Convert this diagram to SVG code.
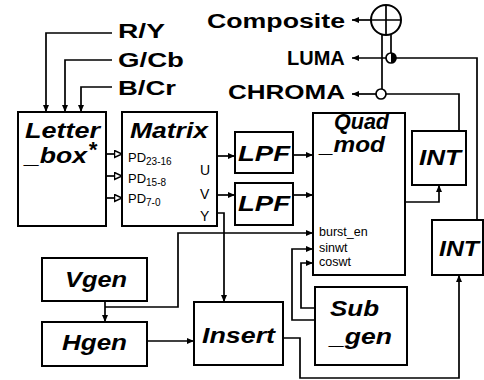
<svg xmlns="http://www.w3.org/2000/svg" width="484" height="380" viewBox="0 0 484 380">
<defs>
<style>
.box{fill:#fff;stroke:#000;stroke-width:2}
.c{fill:none;stroke:#000;stroke-width:1.7}
.bl{font-family:"Liberation Sans",Arial,sans-serif;font-weight:bold;font-style:italic;font-size:22px;fill:#000}
.sl{font-family:"Liberation Sans",Arial,sans-serif;font-weight:bold;font-size:20px;fill:#000}
.st{font-family:"Liberation Sans",Arial,sans-serif;font-size:13px;fill:#000}
.sm{font-family:"Liberation Sans",Arial,sans-serif;font-size:14px;fill:#000}
.sq{font-family:"Liberation Sans",Arial,sans-serif;font-size:12.5px;fill:#000}
</style>
<marker id="ah" markerUnits="userSpaceOnUse" markerWidth="8" markerHeight="8" refX="7" refY="3" orient="auto">
<path d="M0,0 L7,3 L0,6 z" fill="#000"/>
</marker>
<marker id="oh" markerUnits="userSpaceOnUse" markerWidth="10" markerHeight="10" refX="8.5" refY="4.5" orient="auto">
<path d="M1,1 L8.5,4.5 L1,8 z" fill="#fff" stroke="#000" stroke-width="1.5"/>
</marker>
</defs>
<g id="connectors">
<path class="c" d="M112,33 H46 V112" marker-end="url(#ah)"/>
<path class="c" d="M112,60 H65 V112" marker-end="url(#ah)"/>
<path class="c" d="M112,87 H81 V112" marker-end="url(#ah)"/>
<path class="c" d="M106,154 H122" marker-end="url(#oh)"/>
<path class="c" d="M106,176 H122" marker-end="url(#oh)"/>
<path class="c" d="M106,198 H122" marker-end="url(#oh)"/>
<path class="c" d="M217,156 H235" marker-end="url(#ah)"/>
<path class="c" d="M217,195 H235" marker-end="url(#ah)"/>
<path class="c" d="M293,155 H313" marker-end="url(#ah)"/>
<path class="c" d="M293,195 H313" marker-end="url(#ah)"/>
<path class="c" d="M217,213 H224 V302" marker-end="url(#ah)"/>
<path class="c" d="M105,307 H178 V233 H313" marker-end="url(#ah)"/>
<path class="c" d="M105,301 V322" marker-end="url(#ah)"/>
<path class="c" d="M147,341 H194" marker-end="url(#ah)"/>
<path class="c" d="M283,338 H300 V378 H459 V275" marker-end="url(#ah)"/>
<path class="c" d="M315,320 H292 V249 H313" marker-end="url(#ah)"/>
<path class="c" d="M315,308 H301 V263 H313" marker-end="url(#ah)"/>
<path class="c" d="M405,202 H439 V185" marker-end="url(#ah)"/>
<path class="c" d="M459,131 V94 H386"/>
<path class="c" d="M376,94 H352" marker-end="url(#ah)"/>
<path class="c" d="M477,220 V58 H396"/>
<path class="c" d="M386,58 H352" marker-end="url(#ah)"/>
<path class="c" d="M382,35 V89"/>
<path class="c" d="M391,35 V53"/>
<path class="c" d="M371,20 H352" marker-end="url(#ah)"/>
<circle cx="386" cy="20" r="15" fill="none" stroke="#000" stroke-width="2"/>
<path class="c" d="M371,20 H401 M386,5 V35"/>
<circle cx="381" cy="94" r="5" fill="#fff" stroke="#000" stroke-width="1.7"/>
<circle cx="391" cy="58" r="5" fill="#fff" stroke="#000" stroke-width="1.7"/>
<path d="M391,53 A5,5 0 0 1 391,63 z" fill="#000"/>
</g>
<g id="inputs">
<text class="sl" x="118" y="38" textLength="47" lengthAdjust="spacingAndGlyphs">R/Y</text>
<text class="sl" x="118" y="67" textLength="66" lengthAdjust="spacingAndGlyphs">G/Cb</text>
<text class="sl" x="118" y="95" textLength="58" lengthAdjust="spacingAndGlyphs">B/Cr</text>
</g>
<g id="outputs">
<text class="sl" x="207" y="28" textLength="138" lengthAdjust="spacingAndGlyphs">Composite</text>
<text class="sl" x="287" y="65">LUMA</text>
<text class="sl" x="228" y="99" textLength="117" lengthAdjust="spacingAndGlyphs">CHROMA</text>
</g>
<g id="letterbox">
<rect class="box" x="18" y="112" width="88" height="114"/>
<text class="bl" x="25" y="138" textLength="75" lengthAdjust="spacingAndGlyphs">Letter</text>
<text class="bl" x="25" y="163" textLength="62" lengthAdjust="spacingAndGlyphs">_box</text>
<text class="bl" x="88" y="157" font-size="24">*</text>
</g>
<g id="matrix">
<rect class="box" x="122" y="112" width="95" height="114"/>
<text class="bl" x="130" y="138" textLength="78" lengthAdjust="spacingAndGlyphs">Matrix</text>
<text class="st" x="128" y="162">PD<tspan font-size="10" dy="3">23-16</tspan></text>
<text class="st" x="128" y="183">PD<tspan font-size="10" dy="3">15-8</tspan></text>
<text class="st" x="128" y="203">PD<tspan font-size="10" dy="3">7-0</tspan></text>
<text class="sm" x="200" y="175">U</text>
<text class="sm" x="200" y="199">V</text>
<text class="sm" x="200" y="221">Y</text>
</g>
<g id="lpf1">
<rect class="box" x="235" y="132" width="58" height="41"/>
<text class="bl" x="238" y="161" textLength="52" lengthAdjust="spacingAndGlyphs">LPF</text>
</g>
<g id="lpf2">
<rect class="box" x="235" y="183" width="58" height="42"/>
<text class="bl" x="238" y="211" textLength="52" lengthAdjust="spacingAndGlyphs">LPF</text>
</g>
<g id="quadmod">
<rect class="box" x="313" y="113" width="92" height="162"/>
<text class="bl" x="334" y="129" font-size="21" textLength="55" lengthAdjust="spacingAndGlyphs">Quad</text>
<text class="bl" x="320" y="152" font-size="21" textLength="65" lengthAdjust="spacingAndGlyphs">_mod</text>
<text class="sq" x="319" y="236">burst_en</text>
<text class="sq" x="319" y="252">sinwt</text>
<text class="sq" x="319" y="266">coswt</text>
</g>
<g id="int1">
<rect class="box" x="412" y="131" width="54" height="54"/>
<text class="bl" x="419" y="165" textLength="42" lengthAdjust="spacingAndGlyphs">INT</text>
</g>
<g id="int2">
<rect class="box" x="432" y="220" width="51" height="55"/>
<text class="bl" x="439" y="256" textLength="40" lengthAdjust="spacingAndGlyphs">INT</text>
</g>
<g id="vgen">
<rect class="box" x="42" y="258" width="105" height="43"/>
<text class="bl" x="65" y="287" textLength="62" lengthAdjust="spacingAndGlyphs">Vgen</text>
</g>
<g id="hgen">
<rect class="box" x="42" y="322" width="105" height="44"/>
<text class="bl" x="62" y="350" textLength="65" lengthAdjust="spacingAndGlyphs">Hgen</text>
</g>
<g id="insert">
<rect class="box" x="194" y="302" width="89" height="63"/>
<text class="bl" x="202" y="343" textLength="73" lengthAdjust="spacingAndGlyphs">Insert</text>
</g>
<g id="subgen">
<rect class="box" x="315" y="287" width="92" height="78"/>
<text class="bl" x="330" y="316" textLength="49" lengthAdjust="spacingAndGlyphs">Sub</text>
<text class="bl" x="330" y="344" textLength="62" lengthAdjust="spacingAndGlyphs">_gen</text>
</g>
</svg>
